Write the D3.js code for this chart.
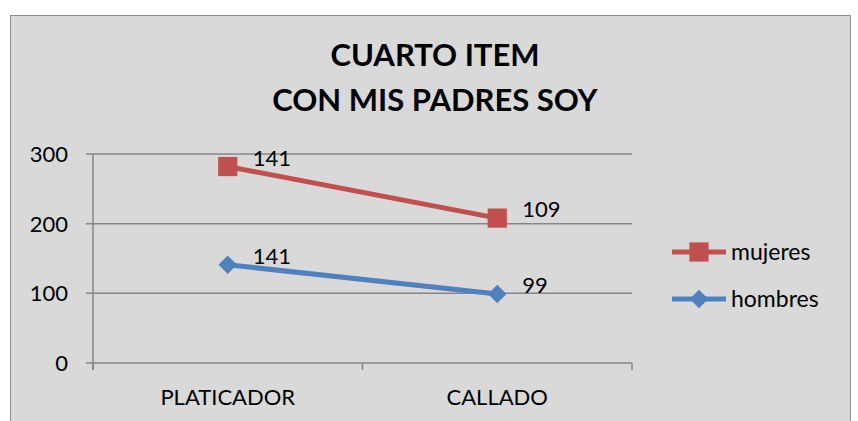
<!DOCTYPE html>
<html>
<head>
<meta charset="utf-8">
<script src="https://cdn.jsdelivr.net/npm/d3@7"></script>
<style>
  body { margin: 0; background: #fff; }
  text { font-family: Lato, "Open Sans", sans-serif; fill: #000; }
</style>
</head>
<body>
<script>
var categories = ["PLATICADOR", "CALLADO"];
var hombres = [141, 99];
var mujeres = [141, 109];
var yTicks = [0, 100, 200, 300];
var titleLines = ["CUARTO ITEM", "CON MIS PADRES SOY"];

var W = 858, H = 421;
var margin = {top: 154, left: 93, right: 226, bottom: 58};
var width = W - margin.left - margin.right,
    height = H - margin.top - margin.bottom;

var svg = d3.select("body").append("svg")
    .attr("width", W).attr("height", H);

svg.append("rect").attr("x", 10.5).attr("y", 15.5)
    .attr("width", 840).attr("height", 420)
    .attr("fill", "#d9d9d9").attr("stroke", "#8c8c8c");

svg.selectAll(".title").data(titleLines).enter().append("text")
    .attr("x", 435).attr("y", function(d, i) { return 66 + i * 45; })
    .attr("text-anchor", "middle")
    .style("font-size", "31px").style("font-weight", "bold")
    .text(function(d) { return d; });

var g = svg.append("g").attr("transform", "translate(" + margin.left + "," + margin.top + ")");

var x = d3.scaleBand().domain(categories).range([0, width]);
var y = d3.scaleLinear().domain([0, 300]).range([height, 0]);

// mujeres is stacked on top of hombres
var stackedM = mujeres.map(function(v, i) { return v + hombres[i]; });

g.selectAll(".grid").data(yTicks).enter().append("line")
    .attr("x1", -7).attr("x2", width)
    .attr("y1", function(d) { return y(d); }).attr("y2", function(d) { return y(d); })
    .attr("stroke", "#868686").attr("stroke-width", 1.5);

g.append("line").attr("x1", 0).attr("x2", 0).attr("y1", 0).attr("y2", height + 7)
    .attr("stroke", "#868686").attr("stroke-width", 1.5);

var xticks = [0].concat(categories.map(function(c) { return x(c) + x.bandwidth(); }));
g.selectAll(".xt").data(xticks).enter().append("line")
    .attr("x1", function(d) { return d; }).attr("x2", function(d) { return d; })
    .attr("y1", height).attr("y2", height + 7)
    .attr("stroke", "#868686").attr("stroke-width", 1.5);

g.selectAll(".yl").data(yTicks).enter().append("text")
    .attr("x", -25).attr("y", function(d) { return y(d); }).attr("dy", "0.36em")
    .attr("text-anchor", "end").style("font-size", "22px")
    .text(function(d) { return d; });

g.selectAll(".xl").data(categories).enter().append("text")
    .attr("x", function(d) { return x(d) + x.bandwidth() / 2; })
    .attr("y", height + 42)
    .attr("text-anchor", "middle").style("font-size", "22px")
    .text(function(d) { return d; });

var line = d3.line()
    .x(function(d, i) { return x(categories[i]) + x.bandwidth() / 2; })
    .y(function(d) { return y(d); });

var square = d3.symbol().type(d3.symbolSquare).size(370)();
var diamond = d3.symbol().type(d3.symbolSquare).size(170)();

var series = [
  {name: "mujeres", values: stackedM, raw: mujeres, color: "#c0504d", shape: square, rot: 0},
  {name: "hombres", values: hombres, raw: hombres, color: "#4f81bd", shape: diamond, rot: 45}
];

series.forEach(function(s) {
  g.append("path").datum(s.values).attr("d", line)
    .attr("fill", "none").attr("stroke", s.color).attr("stroke-width", 5);
  g.selectAll(".m" + s.name).data(s.values).enter().append("path")
    .attr("transform", function(d, i) {
      return "translate(" + (x(categories[i]) + x.bandwidth() / 2) + "," + y(d) + ") rotate(" + s.rot + ")";
    })
    .attr("d", s.shape)
    .attr("fill", s.color);
  g.selectAll(".l" + s.name).data(s.values).enter().append("text")
    .attr("x", function(d, i) { return x(categories[i]) + x.bandwidth() / 2 + 25; })
    .attr("y", function(d) { return y(d) - 1; })
    .style("font-size", "22px")
    .text(function(d, i) { return s.raw[i]; });
});

var legend = svg.selectAll(".leg").data(series).enter().append("g")
    .attr("transform", function(d, i) { return "translate(672," + (252 + i * 47) + ")"; });
legend.append("line").attr("x1", 0).attr("x2", 54)
    .attr("stroke", function(d) { return d.color; }).attr("stroke-width", 5);
legend.append("path")
    .attr("transform", function(d) { return "translate(27,0) rotate(" + d.rot + ")"; })
    .attr("d", function(d) { return d.shape; })
    .attr("fill", function(d) { return d.color; });
legend.append("text").attr("x", 59).attr("dy", "0.36em")
    .style("font-size", "23px")
    .text(function(d) { return d.name; });
</script>
</body>
</html>
